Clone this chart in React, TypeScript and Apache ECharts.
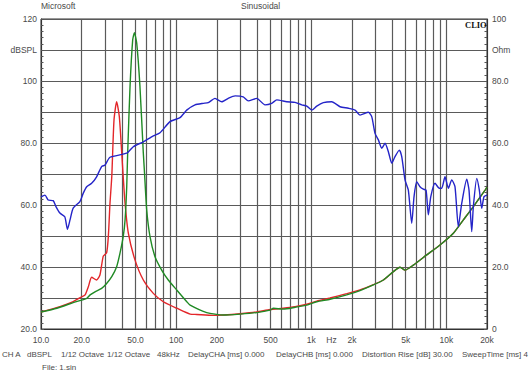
import React, { useEffect, useRef } from 'react';
import * as echarts from 'echarts';

// Frequency grid (Hz) and labels
const gridFreqs = [10, 20, 30, 40, 50, 60, 70, 80, 90, 100, 200, 300, 400, 500, 600, 700, 800, 900,
  1000, 2000, 3000, 4000, 5000, 6000, 7000, 8000, 9000, 10000, 20000];
const labelFreqs = [10, 20, 50, 100, 200, 500, 1000, 1414, 2000, 5000, 10000, 20000];

// Blue curve: dBSPL (left axis)
const blueFreq = [10, 10.7, 11.3, 12.3, 12.9, 13.8, 15.0, 15.7, 16.4, 17.3, 19.4, 20.6, 21.8, 23.7, 25.8, 28.1, 29.8,
  32.4, 43.1, 48.2, 57.2, 67.8, 76.0, 90.1, 106.9, 119.8, 138, 159, 173, 194, 217.6, 243, 273, 314, 342, 395, 455,
  510, 556, 659, 759, 851, 927, 1009, 1099, 1229, 1419, 1634, 1884, 2110, 2297, 2648, 2805, 2967, 3141, 3327, 3518,
  3724, 3945, 4170, 4489, 4677, 4946, 5234, 5545, 5768, 6039, 6383, 6761, 7079, 7362, 7674, 8247, 8872, 9245, 9776,
  10350, 10965, 11590, 12270, 13000, 14160, 14720, 15420, 15850, 16790, 17550, 18280, 19010, 20000];
const blueDb = [62.6, 63.2, 61.6, 61.4, 59.5, 57.4, 56.2, 52.2, 55.2, 59.0, 61.1, 63.9, 65.9, 67.0, 69.1, 72.4, 72.9,
  75.4, 76.7, 78.8, 80.4, 82.3, 83.3, 86.9, 88.2, 90.6, 92.3, 92.8, 93.0, 94.4, 93.3, 94.4, 95.2, 94.9, 93.6, 94.4, 92.3,
  92.8, 93.9, 93.3, 93.1, 92.3, 91.9, 90.6, 91.9, 93.0, 93.3, 91.7, 91.2, 90.6, 89.0, 89.9, 88.5, 83.1, 81.0, 78.3, 79.9,
  77.2, 73.5, 75.6, 77.7, 75.6, 68.1, 64.8, 54.1, 62.7, 67.5, 65.9, 65.1, 64.8, 56.8, 62.7, 67.0, 65.4, 65.4, 69.1,
  65.4, 68.1, 65.9, 53.0, 60.5, 68.3, 64.8, 51.4, 59.5, 68.6, 64.8, 58.9, 62.7, 63.2];

// Red curve: Ohm (right axis)
const redFreq = [10, 13.8, 17.3, 20.0, 21.2, 22.4, 23.7, 25.8, 27.3, 28.9, 30.6, 31.5, 32.4, 33.4, 34.7, 36.3, 38.0,
  39.6, 40.6, 41.9, 44.3, 49.6, 57.2, 67.8, 80.4, 101, 127, 142, 188, 224, 297, 395, 496, 621, 759, 927, 1099, 1377,
  1831, 2297, 2884, 3420, 4053, 4542, 4946, 5700, 7161, 8974, 11270, 13370, 15850, 19350, 20000];
const redOhm = [5.5, 7.2, 8.8, 10.4, 11.0, 13.6, 16.7, 15.8, 17.4, 23.5, 24.6, 29.8, 40.5, 49.1, 67.4, 73.3, 68.5,
  56.7, 49.1, 40.5, 30.9, 22.3, 15.8, 11.5, 8.8, 6.7, 4.8, 4.7, 4.4, 4.5, 4.9, 5.5, 6.3, 6.7, 7.2, 8.0, 9.0, 10.0,
  11.4, 12.6, 14.3, 15.8, 18.5, 19.9, 19.0, 20.6, 23.9, 27.1, 30.9, 35.2, 39.5, 44.8, 45.8];

// Green curve: Ohm (right axis)
const greenFreq = [10, 13.1, 17.3, 21.8, 23.1, 25.1, 28.1, 30.6, 33.4, 36.3, 38.4, 40.6, 41.9, 43.1, 43.8, 45.6, 47.7,
  49.1, 51.1, 54.0, 57.2, 58.2, 60.6, 64.1, 69.8, 78.2, 87.5, 101, 120, 127, 168.5, 224, 297, 395, 496, 524, 621, 759,
  927, 1099, 1377, 1831, 2297, 2884, 3420, 4053, 4542, 4946, 5700, 7161, 8974, 11270, 13370, 15850, 19350, 20000];
const greenOhm = [5.5, 6.7, 8.5, 9.9, 11.0, 12.0, 13.1, 14.7, 16.9, 20.1, 24.4, 29.8, 35.2, 45.9, 56.8, 78.2, 93.2,
  95.6, 92.2, 78.2, 56.7, 51.3, 38.4, 29.8, 23.3, 19.0, 15.8, 12.6, 8.8, 7.7, 5.3, 4.5, 4.8, 5.3, 6.1, 6.7, 6.4, 7.0,
  7.7, 8.8, 9.6, 11.0, 12.4, 14.2, 15.8, 18.5, 19.9, 19.0, 20.6, 23.9, 27.1, 30.9, 35.2, 39.5, 44.8, 45.8];

// Footer texts
const footerItems = ['CH A', 'dBSPL', '1/12 Octave', '1/12 Octave', '48kHz', 'DelayCHA [ms] 0.000',
  'DelayCHB [ms] 0.000', 'Distortion Rise [dB] 30.00', 'SweepTime [ms] 4'];
const footerX = [2, 27, 61, 107, 157, 188, 276, 362, 462];

const FONT = '"Liberation Sans", Arial, sans-serif';
const TXT = '#4a4a4a';
const GRIDC = '#5a5a5a';

const lg = (f: number) => Math.log10(f);
const XMIN = lg(10);
const XMAX = lg(20000);

function fmtFreq(v: number): string {
  const f = Math.round(Math.pow(10, v));
  if (Math.abs(f - 1414) < 5) return 'Hz';
  if (f < 100) return f.toFixed(1);
  if (f < 1000) return String(f);
  return f / 1000 + 'k';
}

function pair(fs: number[], vs: number[]) {
  return fs.map((f, i) => [lg(f), vs[i]]);
}

export default function App() {
  const ref = useRef<HTMLDivElement>(null);
  useEffect(() => {
    if (!ref.current) return;
    const chart = echarts.init(ref.current, undefined, { renderer: 'svg' });
    const yLeftFmt = (v: number) => {
      if (v === 110) return 'dBSPL';
      if (v === 120 || v === 100) return String(v);
      if (v % 20 === 0) return v.toFixed(1);
      return '';
    };
    const yRightFmt = (v: number) => {
      if (v === 90) return 'Ohm';
      if (v === 100 || v === 0) return String(v);
      if (v % 20 === 0) return v.toFixed(1);
      return '';
    };
    const labelStyle = { fontFamily: FONT, fontSize: 8.5, color: TXT };
    chart.setOption({
      animation: false,
      backgroundColor: '#ffffff',
      grid: { left: 41, right: 43, top: 19, bottom: 44, show: true, borderColor: '#333', borderWidth: 1 },
      xAxis: {
        type: 'value',
        min: XMIN,
        max: XMAX,
        axisLine: { show: true, lineStyle: { color: '#333', width: 1 } },
        axisTick: { show: false, customValues: gridFreqs.map(lg) },
        splitLine: { show: true, lineStyle: { color: GRIDC, width: 1.2 } },
        axisLabel: { ...labelStyle, customValues: labelFreqs.map(lg), formatter: fmtFreq, margin: 6, showMinLabel: true, showMaxLabel: true },
      },
      yAxis: [
        {
          type: 'value', min: 20, max: 120, interval: 10, position: 'left',
          axisLine: { show: true, lineStyle: { color: '#333', width: 1 } },
          axisTick: { show: true, inside: true, length: 3, lineStyle: { color: '#555' } },
          minorTick: { show: true, splitNumber: 5, length: 2.5, lineStyle: { color: '#555' } },
          splitLine: { show: true, lineStyle: { color: GRIDC, width: 1.2 } },
          axisLabel: { ...labelStyle, formatter: yLeftFmt, margin: 4 },
        },
        {
          type: 'value', min: 0, max: 100, interval: 10, position: 'right',
          axisLine: { show: true, lineStyle: { color: '#333', width: 1 } },
          axisTick: { show: true, inside: true, length: 3, lineStyle: { color: '#555' } },
          minorTick: { show: true, splitNumber: 5, length: 2.5, lineStyle: { color: '#555' } },
          splitLine: { show: false },
          axisLabel: { ...labelStyle, formatter: yRightFmt, margin: 5 },
        },
      ],
      graphic: [
        { type: 'text', left: 41, top: 1, style: { text: 'Microsoft', fontFamily: FONT, fontSize: 8.5, fill: TXT } },
        { type: 'text', left: 241, top: 1, style: { text: 'Sinusoidal', fontFamily: FONT, fontSize: 8.5, fill: TXT } },
        { type: 'text', left: 465, top: 20, z: 100, style: { text: 'CLIO', fontFamily: '"Liberation Serif", "Times New Roman", serif', fontWeight: 'bold', fontSize: 8.5, fill: '#111' } },
        ...footerItems.map((t, i) => ({
          type: 'text', left: footerX[i], top: 350,
          style: { text: t, fontFamily: FONT, fontSize: 8, fill: TXT },
        })),
        { type: 'text', left: 42, top: 363, style: { text: 'File: 1.sin', fontFamily: FONT, fontSize: 8, fill: TXT } },
      ],
      series: [
        {
          name: 'red', type: 'line', yAxisIndex: 1, data: pair(redFreq, redOhm), showSymbol: false, smooth: 0.2,
          lineStyle: { color: '#e3262a', width: 1.4 }, z: 3,
        },
        {
          name: 'green', type: 'line', yAxisIndex: 1, data: pair(greenFreq, greenOhm), showSymbol: false, smooth: 0.2,
          lineStyle: { color: '#1f8a24', width: 1.4 }, z: 4,
        },
        {
          name: 'blue', type: 'line', yAxisIndex: 0, data: pair(blueFreq, blueDb), showSymbol: false, smooth: 0.2,
          lineStyle: { color: '#2424c8', width: 1.4 }, z: 5,
        },
      ],
    });
    return () => chart.dispose();
  }, []);
  return (
    <div style={{ position: 'fixed', left: 0, top: 0, width: 530, height: 373, background: '#fff' }}>
      <div ref={ref} style={{ width: 530, height: 373 }} />
    </div>
  );
}
